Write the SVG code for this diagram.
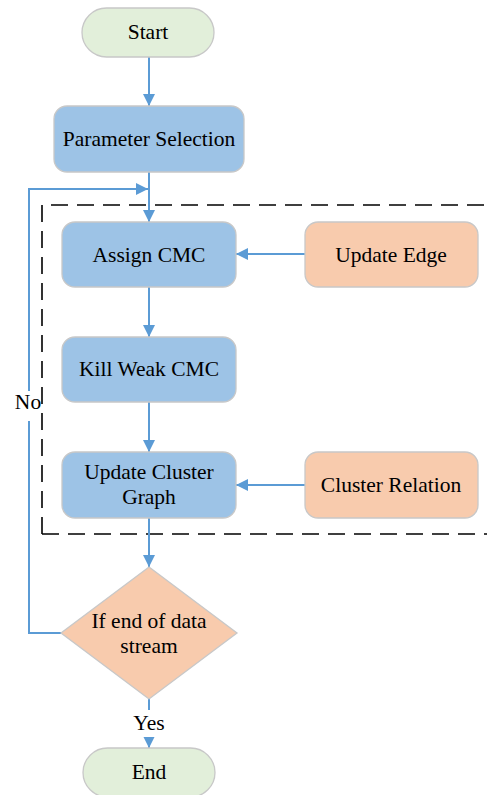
<svg xmlns="http://www.w3.org/2000/svg" width="487" height="795" viewBox="0 0 487 795">
<defs>
<style>
text{font-family:"Liberation Serif","Times New Roman","DejaVu Serif",serif;font-size:21.5px;fill:#000;text-anchor:middle}
.term{fill:#E2EFDA;stroke:#C8C8C8;stroke-width:1.3}
.proc{fill:#9DC3E6;stroke:#C8C8C8;stroke-width:1.3}
.side{fill:#F8CBAD;stroke:#C8C8C8;stroke-width:1.3}
.ln{fill:none;stroke:#5B9BD5;stroke-width:2}
</style>
<marker id="ah" viewBox="0 0 10 10" refX="10" refY="5" markerWidth="12" markerHeight="12" markerUnits="userSpaceOnUse" orient="auto">
<path d="M0,0 L10,5 L0,10 Z" fill="#5B9BD5"/>
</marker>
</defs>
<rect width="487" height="795" fill="#fff"/>
<path d="M42,534 L42,205 L487,205 M42,534 L487,534" fill="none" stroke="#000" stroke-width="1.6" stroke-dasharray="17,9"/>
<g id="connectors">
<path class="ln" d="M149,57 L149,106" marker-end="url(#ah)"/>
<path class="ln" d="M149,172 L149,222" marker-end="url(#ah)"/>
<path class="ln" d="M61,633 L29,633 L29,189 L148,189" marker-end="url(#ah)"/>
<path class="ln" d="M149,287 L149,337" marker-end="url(#ah)"/>
<path class="ln" d="M149,402 L149,452" marker-end="url(#ah)"/>
<path class="ln" d="M149,518 L149,567" marker-end="url(#ah)"/>
<path class="ln" d="M305,254 L236,254" marker-end="url(#ah)"/>
<path class="ln" d="M305,485 L236,485" marker-end="url(#ah)"/>
<path class="ln" d="M149,699 L149,748" marker-end="url(#ah)"/>
<rect x="12" y="391" width="29" height="30" fill="#fff"/>
<text x="28" y="409">No</text>
<rect x="128" y="710" width="42" height="27" fill="#fff"/>
<text x="149" y="730">Yes</text>
</g>
<g id="start"><rect class="term" x="82" y="8" width="132" height="49" rx="24.5"/><text x="148" y="39">Start</text></g>
<g id="param"><rect class="proc" x="54" y="106" width="190" height="66" rx="13"/><text x="149" y="146">Parameter Selection</text></g>
<g id="assign"><rect class="proc" x="62" y="222" width="174" height="65" rx="13"/><text x="149" y="262">Assign CMC</text></g>
<g id="updateEdge"><rect class="side" x="305" y="222" width="173" height="65" rx="13"/><text x="391" y="262">Update Edge</text></g>
<g id="kill"><rect class="proc" x="62" y="337" width="174" height="65" rx="13"/><text x="149" y="376">Kill Weak CMC</text></g>
<g id="updateCluster"><rect class="proc" x="62" y="452" width="174" height="66" rx="13"/><text x="149" y="479">Update Cluster</text><text x="149" y="504">Graph</text></g>
<g id="clusterRel"><rect class="side" x="305" y="452" width="173" height="66" rx="13"/><text x="391" y="492">Cluster Relation</text></g>
<g id="decision"><polygon class="side" points="149,567 237,633 149,699 61,633"/><text x="149" y="628">If end of data</text><text x="149" y="653">stream</text></g>
<g id="end"><rect class="term" x="83" y="748" width="132" height="49" rx="24.5"/><text x="149" y="779">End</text></g>
</svg>
